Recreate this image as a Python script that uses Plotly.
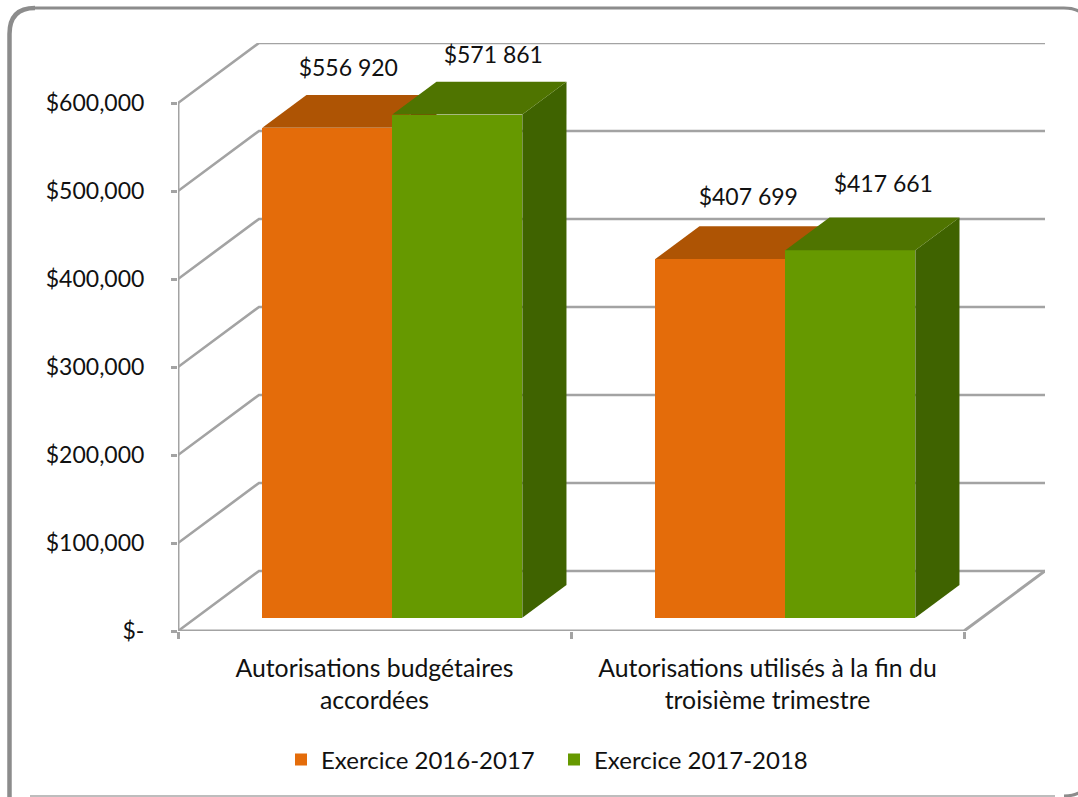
import plotly.graph_objects as go

categories = ["Autorisations budgétaires<br>accordées", "Autorisations utilisés à la fin du<br>troisième trimestre"]
series_names = ["Exercice 2016-2017", "Exercice 2017-2018"]
values_2016 = [556920, 407699]
values_2017 = [571861, 417661]
y_ticks = [0, 100000, 200000, 300000, 400000, 500000, 600000]
y_tick_labels = ["$-", "$100,000", "$200,000", "$300,000", "$400,000", "$500,000", "$600,000"]

W, H = 1078, 797
LEFT, RIGHT, BOTTOM, TOP = 178, 1045, 631, 43
PX_PER_CAT = 393.0
PX_PER_USD = 528 / 600000
FONT = "Lato, Carlito, Calibri, sans-serif"
GRID = "#a3a3a3"
TXT = "#111111"

X0 = -0.5
X1 = X0 + (RIGHT - LEFT) / PX_PER_CAT
Y1 = (BOTTOM - TOP) / PX_PER_USD
DX = 81 / PX_PER_CAT      # full floor depth in category units
DY = 60 / PX_PER_USD      # full floor depth in dollars
F_D, B_D = 0.22, 0.765    # front and back of the bar inside the floor depth
BW = 130 / PX_PER_CAT


def faces(cat, off, val):
    x0 = cat + off + F_D * DX
    x1 = x0 + BW
    dx = (B_D - F_D) * DX
    dy = (B_D - F_D) * DY
    b = F_D * DY
    t = val + b
    top = ([x0, x1, x1 + dx, x0 + dx, x0], [t, t, t + dy, t + dy, t])
    side = ([x1, x1 + dx, x1 + dx, x1, x1], [b, b + dy, t + dy, t, b])
    return top, side


fig = go.Figure()
styles = [
    (values_2016, series_names[0], "#E46C0A", "#AE5404", "#8a4304", -BW / 2, "x", "y"),
    (values_2017, series_names[1], "#669900", "#4F7400", "#3F6300", BW / 2, "x2", "y2"),
]
for vals, name, front, top_c, side_c, off, xa, ya in styles:
    fig.add_trace(go.Bar(
        x=[i + off + F_D * DX for i in range(len(vals))],
        y=vals, base=[F_D * DY] * len(vals), width=BW, name=name,
        marker=dict(color=front, line=dict(width=0)), xaxis=xa, yaxis=ya,
    ))
    for i, v in enumerate(vals):
        top, side = faces(i, off - BW / 2, v)
        for (xs, ys), c in ((side, side_c), (top, top_c)):
            fig.add_trace(go.Scatter(
                x=xs, y=ys, mode="lines", fill="toself", fillcolor=c,
                line=dict(width=0, color=c), hoverinfo="skip",
                showlegend=False, xaxis=xa, yaxis=ya,
            ))

# data labels
label_shift_px = [(21, 57), (36, 57), (28, 60), (33, 64)]
lab_vals = [values_2016[0], values_2017[0], values_2016[1], values_2017[1]]
lab_cat = [0 - BW / 2, 0 + BW / 2, 1 - BW / 2, 1 + BW / 2]
fig.add_trace(go.Scatter(
    x=[c + F_D * DX + s[0] / PX_PER_CAT for c, s in zip(lab_cat, label_shift_px)],
    y=[v + F_D * DY + s[1] / PX_PER_USD for v, s in zip(lab_vals, label_shift_px)],
    mode="text", text=[f"${v:,}".replace(",", " ") for v in lab_vals],
    textposition="middle center", textfont=dict(family=FONT, size=23, color=TXT),
    showlegend=False, hoverinfo="skip", xaxis="x2", yaxis="y2",
))

# walls, floor and axis lines lie behind the bars
shapes = []
for v in y_ticks:
    path = f"M {X0},{v} L {X0 + DX},{v + DY} L {X1},{v + DY}"
    shapes.append(dict(type="path", path=path, xref="x", yref="y", layer="below",
                       line=dict(color=GRID, width=2.6)))
shapes.append(dict(type="path", path=f"M {X0},{y_ticks[-1]} L {X0},0 L {X1 - DX},0 L {X1},{DY}",
                   xref="x", yref="y", layer="below", line=dict(color=GRID, width=3)))


# card frame, in page pixels
def px(x, y):
    return f"{x / W:.5f},{1 - y / H:.5f}"


r = 26
fl, ft, fr, fb = 9, 8, 1090, 796
frame_top = (f"M {px(fl + r, ft)} L {px(fr - r, ft)} Q {px(fr, ft)} {px(fr, ft + r)} "
             f"L {px(fr, fb - r)} Q {px(fr, fb)} {px(fr - r, fb)}")
frame_left = f"M {px(fl + 0.5, 797)} L {px(fl + 0.5, ft + r)} Q {px(fl + 0.5, ft)} {px(fl + r, ft)}"
shapes.insert(0, dict(type="path", path=frame_top, xref="paper", yref="paper", layer="below",
                      line=dict(color="#8c8c8c", width=3)))
shapes.insert(1, dict(type="path", xref="paper", yref="paper", layer="below",
                      path=frame_left, line=dict(color="#8c8c8c", width=4.5)))
shapes.insert(2, dict(type="path", xref="paper", yref="paper", layer="below",
                      path=f"M {px(30, 796)} L {px(1055, 796)}",
                      line=dict(color="#bdbdbd", width=2)))

x_dom = [LEFT / W, RIGHT / W]
y_dom = [1 - BOTTOM / H, 1 - TOP / H]

fig.update_layout(
    width=W, height=H, autosize=False,
    margin=dict(l=0, r=0, t=0, b=0, autoexpand=False),
    paper_bgcolor="white", plot_bgcolor="rgba(0,0,0,0)",
    barmode="overlay", bargap=0,
    font=dict(family=FONT, color=TXT),
    shapes=shapes,
    showlegend=True,
    legend=dict(orientation="h",
                x=281 / W, xanchor="left", y=1 - 760 / H, yanchor="middle",
                entrywidth=228, entrywidthmode="pixels",
                font=dict(family=FONT, size=24, color=TXT), bgcolor="rgba(0,0,0,0)",
                itemclick=False, itemdoubleclick=False),
    xaxis=dict(domain=x_dom, range=[X0, X1], tickvals=[0, 1], ticktext=categories,
               ticklen=0, showgrid=False, zeroline=False, showline=False, automargin=False,
               tickfont=dict(family=FONT, size=24.8, color=TXT), tickangle=0,
               ticklabelstandoff=20, anchor="y"),
    yaxis=dict(domain=y_dom, range=[0, Y1], tickvals=y_ticks, ticktext=y_tick_labels,
               ticks="outside", ticklen=6, tickwidth=2.5, tickcolor=GRID, automargin=False,
               showgrid=False, zeroline=False, showline=False,
               tickfont=dict(family=FONT, size=23, color=TXT),
               ticklabelstandoff=22, anchor="x"),
    xaxis2=dict(domain=x_dom, range=[X0, X1], overlaying="x", anchor="y2", side="bottom",
                tickvals=[-0.5, 0.5, 1.5], ticktext=["", "", ""], automargin=False,
                ticks="outside", ticklen=7, tickwidth=2.5, tickcolor=GRID,
                showgrid=False, zeroline=False, showline=False),
    yaxis2=dict(domain=y_dom, range=[0, Y1], overlaying="y", anchor="x2", automargin=False,
                showticklabels=False, ticks="", showgrid=False, zeroline=False, showline=False),
)

fig.write_html("out.html", config={"displayModeBar": False},
               post_script="document.body.style.margin='0';document.body.style.overflow='hidden';")
